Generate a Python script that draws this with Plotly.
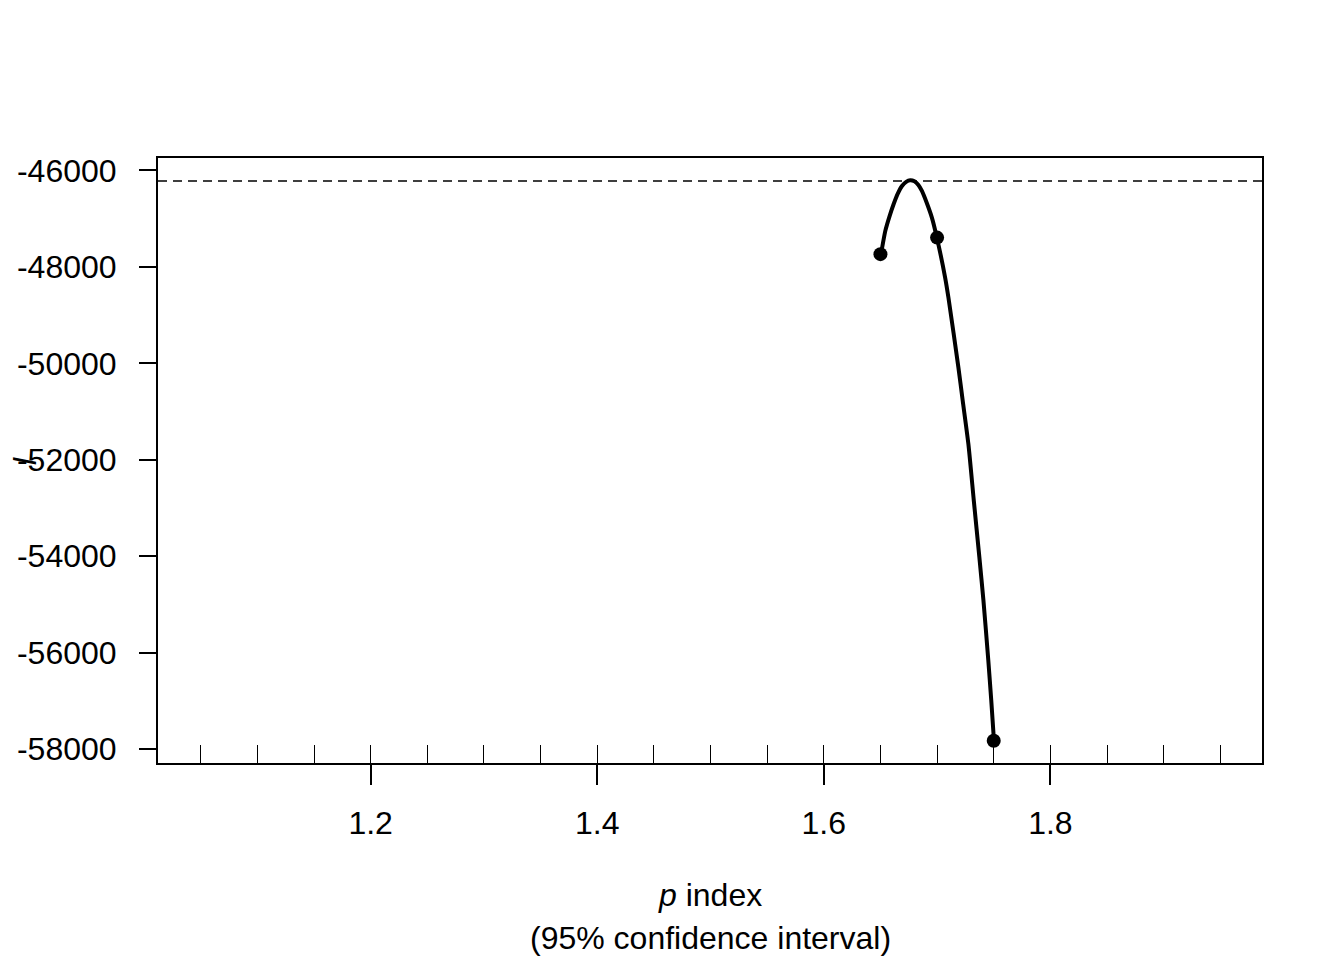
import plotly.graph_objects as go

# Profile points (p index vs log-likelihood)
p_points = [1.65, 1.70, 1.75]
ll_points = [-47735, -47392, -57828]

# Smoothed profile curve
p_curve = [1.6505, 1.6543, 1.6580, 1.6616, 1.6653, 1.6690, 1.6727, 1.6763, 1.6800,
           1.6835, 1.6866, 1.6910, 1.6954, 1.6998,
           1.7071, 1.7100, 1.7188, 1.7226, 1.7276, 1.7324, 1.7373, 1.7409,
           1.7452, 1.7478, 1.7502]
ll_curve = [-47735, -47253, -46950, -46700, -46480, -46321, -46235, -46203, -46225,
            -46300, -46425, -46680, -46977, -47392,
            -48220, -48635, -50084, -50773, -51670, -52844, -54018, -54915,
            -56157, -56986, -57828]

ll_max = -46217

x_range = [1.0123, 1.9868]
y_range = [-58290, -45741]
y_ticks = [-46000, -48000, -50000, -52000, -54000, -56000, -58000]
x_ticks = [1.2, 1.4, 1.6, 1.8]

FONT = "Liberation Sans, Arial, sans-serif"

fig = go.Figure()

fig.add_trace(go.Scatter(
    x=x_range, y=[ll_max, ll_max], mode="lines",
    line=dict(color="black", width=1.6, dash="9px,6px"),
    hoverinfo="skip", showlegend=False, cliponaxis=True))

fig.add_trace(go.Scatter(
    x=p_curve, y=ll_curve, mode="lines", line_shape="spline",
    line=dict(color="black", width=4, smoothing=0.6), showlegend=False))

fig.add_trace(go.Scatter(
    x=p_points, y=ll_points, mode="markers",
    marker=dict(color="black", size=14), showlegend=False))

# invisible trace to activate the secondary x axis (minor inside ticks)
fig.add_trace(go.Scatter(x=x_range, y=[None, None], xaxis="x2",
                         mode="markers", showlegend=False, hoverinfo="skip"))

fig.update_layout(
    width=1336, height=952,
    margin=dict(l=150, r=82, t=150, b=197, autoexpand=False),
    plot_bgcolor="white", paper_bgcolor="white",
    font=dict(family=FONT, size=32, color="black"),
    xaxis=dict(range=x_range, tickvals=x_ticks, ticktext=["1.2", "1.4", "1.6", "1.8"],
               ticks="outside", ticklen=20, tickwidth=2, tickcolor="black",
               showline=True, linewidth=2, linecolor="black", mirror=True,
               showgrid=False, zeroline=False, ticklabelstandoff=11,
               automargin=False),
    xaxis2=dict(range=x_range, overlaying="x", side="bottom", anchor="y",
                tick0=1.05, dtick=0.05, ticks="inside", ticklen=18, tickwidth=1,
                tickcolor="black", showticklabels=False, showgrid=False,
                zeroline=False, showline=False, automargin=False),
    yaxis=dict(range=y_range, tickvals=y_ticks, ticktext=[str(v) for v in y_ticks],
               ticks="outside", ticklen=17, tickwidth=2, tickcolor="black",
               showline=True, linewidth=2, linecolor="black", mirror=True,
               showgrid=False, zeroline=False, ticklabelstandoff=16,
               automargin=False),
    annotations=[
        dict(text="<i>p</i> index", xref="paper", yref="paper", x=0.5, y=-0.2178,
             showarrow=False, xanchor="center", yanchor="middle",
             font=dict(family=FONT, size=32)),
        dict(text="(95% confidence interval)", xref="paper", yref="paper", x=0.5, y=-0.2888,
             showarrow=False, xanchor="center", yanchor="middle",
             font=dict(family=FONT, size=32)),
        dict(text="<i>l</i>", xref="paper", yref="paper", x=-0.121, y=0.5,
             showarrow=False, textangle=-90, xanchor="center", yanchor="middle",
             font=dict(family=FONT, size=32)),
    ],
)

fig.write_html("out.html")
